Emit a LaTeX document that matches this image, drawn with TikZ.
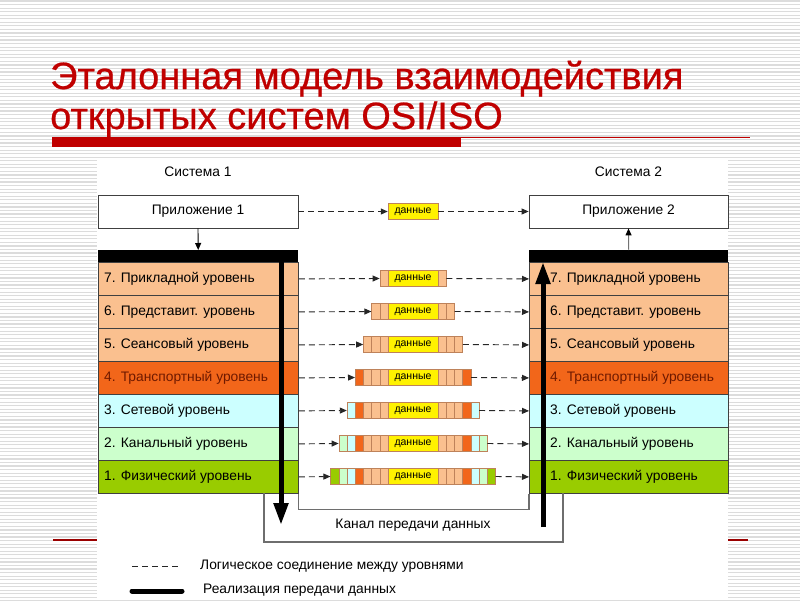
\documentclass[tikz,border=0pt]{standalone}
\usepackage{fontspec}
\setmainfont{Liberation Sans}
\newfontfamily\titlefont[FakeBold=0.6]{Liberation Sans}
\usetikzlibrary{arrows.meta}
\definecolor{peach}{RGB}{250,192,143}
\definecolor{orng}{RGB}{242,102,26}
\definecolor{lcyan}{RGB}{204,255,255}
\definecolor{lgreen}{RGB}{204,255,204}
\definecolor{ygreen}{RGB}{153,204,0}
\definecolor{titlered}{RGB}{192,0,0}
\definecolor{stripe}{RGB}{220,220,220}
\definecolor{chgray}{RGB}{110,110,110}
\definecolor{tfour}{RGB}{110,25,0}
\definecolor{segline}{RGB}{190,130,90}
\colorlet{lc7}{peach}
\colorlet{lc6}{peach}
\colorlet{lc5}{peach}
\colorlet{lc4}{orng}
\colorlet{lc3}{lcyan}
\colorlet{lc2}{lgreen}
\colorlet{lc1}{ygreen}
\begin{document}
\begin{tikzpicture}[x=1pt,y=-1pt,
  layerbox/.style={draw=black!75, line width=0.8pt, minimum height=33pt, anchor=north west, inner sep=0pt},
  lbl/.style={anchor=west, inner sep=0pt, font=\fontsize{13.8}{16}\selectfont},
  appbox/.style={draw=black!75, line width=0.8pt, fill=white, minimum height=33pt, inner sep=0pt, font=\fontsize{13.8}{16}\selectfont},
  sysname/.style={inner sep=0pt, font=\fontsize{13.8}{16}\selectfont},
  barbox/.style={fill=black, minimum height=12pt, anchor=north west, inner sep=0pt},
  seg/.style={draw=segline, line width=0.5pt},
  datbox/.style={fill=yellow, draw=segline, line width=0.5pt, minimum width=50pt, minimum height=16pt, inner sep=0pt, font=\fontsize{10.5}{12}\selectfont},
  pkt/.style={minimum height=16pt, inner sep=0pt},
  logic/.style={draw=black!85, line width=0.9pt, dash pattern=on 6pt off 4pt, -{Triangle[length=7pt,width=6pt]}},
  downarr/.style={line width=0.9pt, -{Triangle[length=7pt,width=6pt,color=black]}},
  transfer/.style={line width=5pt, -{Triangle[length=22pt,width=14pt]}},
  chan/.style={draw=chgray, line width=1.3pt},
  titletxt/.style={anchor=base west, inner sep=0pt, text=titlered, font=\titlefont\fontsize{38}{40}\selectfont},
  legtxt/.style={anchor=west, inner sep=0pt, font=\fontsize{13.8}{16}\selectfont}
]
\useasboundingbox (0,0) rectangle (800,600);
\fill[white] (0,0) rectangle (800,600);
\foreach \i in {0,...,170} \draw[stripe, line width=1.2pt] (0,{\i*3.55+1}) -- (800,{\i*3.55+1});

% title
\node[titletxt] (t1) at (50,89) {Эталонная модель взаимодействия};
\node[titletxt] (t2) at (50,129) {открытых систем OSI/ISO};
\fill[titlered] (52,137) rectangle (461,147);
\draw[titlered, line width=1pt] (461,137.5) -- (750,137.5);
\draw[titlered!80!black, line width=1.2pt] (53,540) -- (97,540);
\draw[titlered!80!black, line width=1.2pt] (728,540) -- (748,540);

% diagram background
\fill[white] (97,160) rectangle (728,600);

\node[sysname] (s1) at (198,172) {Система 1};
\node[sysname] (s2) at (628.5,172) {Система 2};

\node[appbox, minimum width=200pt] (A1) at (198,211.5) {Приложение 1};
\node[appbox, minimum width=199pt] (A2) at (628.5,211.5) {Приложение 2};

\node[barbox, minimum width=200pt] (B1) at (98,250) {};
\node[barbox, minimum width=199pt] (B2) at (529,250) {};

\draw[downarr] (A1.south) -- (B1.north);
\draw[downarr, draw=black!55] (B2.north) -- (A2.south);

% layers
\foreach \n/\t/\txt in {7/black/{7. Прикладной уровень},6/black/{6. Представит. уровень},5/black/{5. Сеансовый уровень},4/tfour/{4. Транспортный уровень},3/black/{3. Сетевой уровень},2/black/{2. Канальный уровень},1/black/{1. Физический уровень}}{
  \node[layerbox, fill=lc\n, minimum width=200pt] (L\n) at (98,{262+(7-\n)*33}) {};
  \node[lbl, text=\t] (LT\n) at ([xshift=6pt]L\n.west) {\txt};
  \node[layerbox, fill=lc\n, minimum width=199pt] (R\n) at (529,{262+(7-\n)*33}) {};
  \node[lbl, text=\t] (RT\n) at ([xshift=21pt]R\n.west) {\txt};
}

% packets
\node[datbox] (P0) at (413,211.5) {данные};
\draw[logic] (A1.east) -- (P0.west);
\draw[logic] (P0.east) -- (A2.west);
\foreach \n in {1,...,7}{
  \pgfmathsetmacro\k{8-\n}
  \pgfmathsetmacro\cy{262+(7-\n)*33+16.5}
  \node[pkt, minimum width={50+2*\k*8.2}] (P\n) at (413,\cy) {};
  \foreach \m in {\n,...,7}{
    \pgfmathsetmacro\j{8-\m}
    \draw[seg, fill=lc\m] ({388-\j*8.2},\cy-8) rectangle ({388-(\j-1)*8.2},\cy+8);
    \draw[seg, fill=lc\m] ({438+(\j-1)*8.2},\cy-8) rectangle ({438+\j*8.2},\cy+8);
  }
  \node[datbox] (D\n) at (413,\cy) {данные};
  \draw[logic] (L\n.east) -- (P\n.west);
  \draw[logic] (P\n.east) -- (R\n.west);
}

% channel
\draw[chan] (L1.south east) -- ++(0,16) -| (R1.south west);
\coordinate (co1) at (264,493);
\coordinate (co2) at (563,493);
\draw[chan] (co1) -- (264,542) -| (co2);
\node[sysname] (ch) at (413,525) {Канал передачи данных};

% transfer arrows
\coordinate (T1a) at (281,255);
\coordinate (T1b) at (281,525);
\coordinate (T2a) at (543,527);
\coordinate (T2b) at (543,262);
\draw[transfer] (T1a) -- (T1b);
\draw[transfer] (T2a) -- (T2b);

% legend
\coordinate (g1a) at (132,566);
\coordinate (g1b) at (180,566);
\draw[black!85, line width=0.9pt, dash pattern=on 6pt off 4pt] (g1a) -- (g1b);
\node[legtxt] (lg1) at (200,566) {Логическое соединение между уровнями};
\coordinate (g2a) at (132,591);
\coordinate (g2b) at (182,591);
\draw[line width=5pt, line cap=round] (g2a) -- (g2b);
\node[legtxt] (lg2) at (203,590) {Реализация передачи данных};
\end{tikzpicture}
\end{document}
